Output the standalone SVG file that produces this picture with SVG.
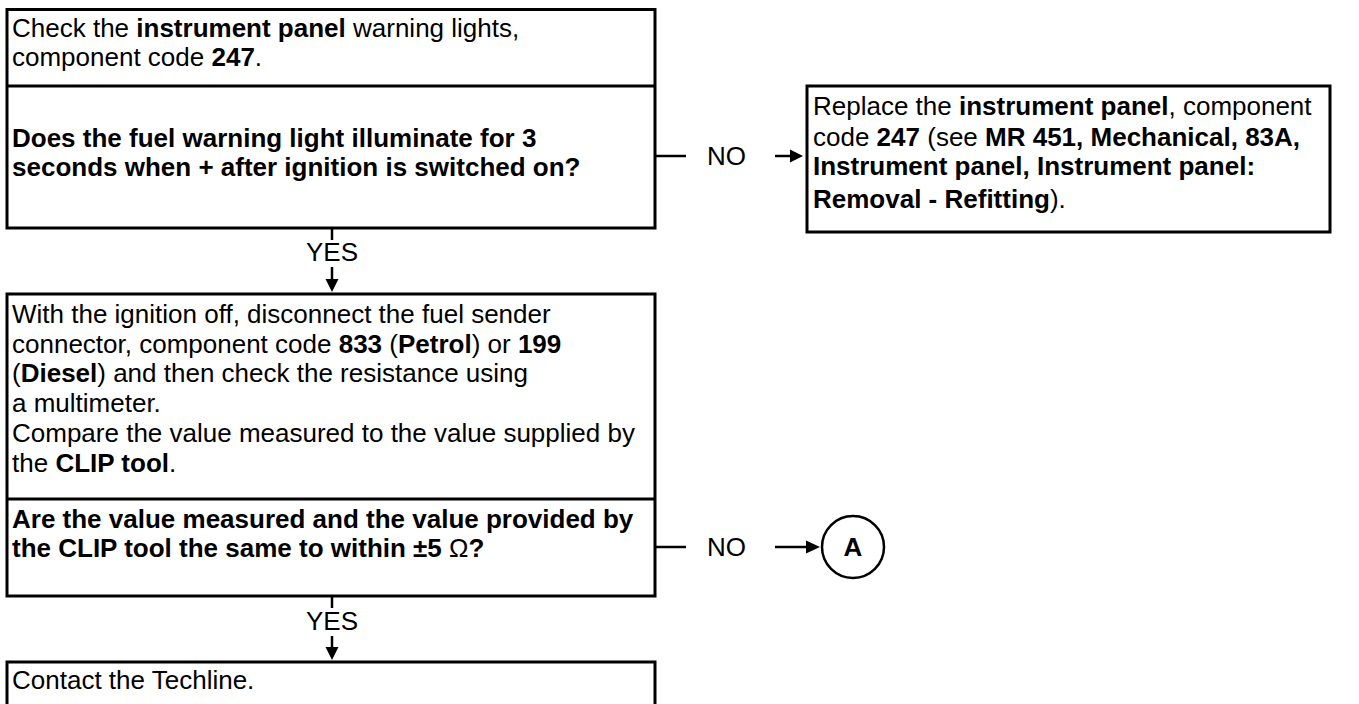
<svg xmlns="http://www.w3.org/2000/svg" width="1359" height="704" viewBox="0 0 1359 704">
<style>
.box{fill:#fff;stroke:#000;stroke-width:3}
.div{stroke:#000;stroke-width:3}
.t{font-family:"Liberation Sans",Arial,sans-serif;font-size:26px;fill:#000}
.b{font-weight:bold}
.lbl{font-family:"Liberation Sans",Arial,sans-serif;font-size:26px;fill:#000}
.c{stroke:#000;stroke-width:2.5;fill:none}
.ah{fill:#000}
</style>
<rect width="1359" height="704" fill="#fff"/>
<g id="node-check">
<rect class="box" x="7" y="9.5" width="648" height="218.5"/>
<line class="div" x1="7" y1="86" x2="655" y2="86"/>
<text class="t"><tspan x="12" y="37">Check the <tspan class="b">instrument panel</tspan> warning lights,</tspan><tspan x="12" y="66">component code <tspan class="b">247</tspan>.</tspan></text>
<text class="t b"><tspan x="12" y="147">Does the fuel warning light illuminate for 3</tspan><tspan x="12" y="176">seconds when + after ignition is switched on?</tspan></text>
</g>
<g id="node-replace">
<rect class="box" x="807" y="86" width="523" height="146"/>
<text class="t"><tspan x="813" y="115">Replace the <tspan class="b">instrument panel</tspan>, component</tspan><tspan x="813" y="146">code <tspan class="b">247</tspan> (see <tspan class="b">MR 451, Mechanical, 83A,</tspan></tspan><tspan x="813" y="175" class="b">Instrument panel, Instrument panel:</tspan><tspan x="813" y="208"><tspan class="b">Removal - Refitting</tspan>).</tspan></text>
</g>
<g id="node-measure">
<rect class="box" x="7" y="294" width="648" height="302"/>
<line class="div" x1="7" y1="499" x2="655" y2="499"/>
<text class="t"><tspan x="12" y="323">With the ignition off, disconnect the fuel sender</tspan><tspan x="12" y="353">connector, component code <tspan class="b">833</tspan> (<tspan class="b">Petrol</tspan>) or <tspan class="b">199</tspan></tspan><tspan x="12" y="382">(<tspan class="b">Diesel</tspan>) and then check the resistance using</tspan><tspan x="12" y="412">a multimeter.</tspan><tspan x="12" y="442">Compare the value measured to the value supplied by</tspan><tspan x="12" y="472">the <tspan class="b">CLIP tool</tspan>.</tspan></text>
<text class="t b"><tspan x="12" y="528">Are the value measured and the value provided by</tspan><tspan x="12" y="557">the CLIP tool the same to within ±5 <tspan font-weight="normal">Ω</tspan>?</tspan></text>
</g>
<g id="node-techline">
<rect class="box" x="7" y="662" width="648" height="60"/>
<text class="t" x="12" y="689">Contact the Techline.</text>
</g>
<g id="node-A">
<circle cx="853" cy="547" r="31" fill="#fff" stroke="#000" stroke-width="2.5"/>
<text class="t b" x="853" y="556" text-anchor="middle">A</text>
</g>
<g id="connectors">
<line class="c" x1="655" y1="156" x2="686" y2="156"/>
<text class="lbl" x="707" y="165">NO</text>
<line class="c" x1="775" y1="156" x2="792" y2="156"/>
<polygon class="ah" points="790,149.5 803,156 790,162.5"/>
<line class="c" x1="332" y1="228" x2="332" y2="240"/>
<text class="lbl" x="332" y="261" text-anchor="middle">YES</text>
<line class="c" x1="332" y1="267" x2="332" y2="281"/>
<polygon class="ah" points="325.5,279 338.5,279 332,292"/>
<line class="c" x1="655" y1="547" x2="686" y2="547"/>
<text class="lbl" x="707" y="556">NO</text>
<line class="c" x1="775" y1="547" x2="808" y2="547"/>
<polygon class="ah" points="806,540.5 820,547 806,553.5"/>
<line class="c" x1="332" y1="596" x2="332" y2="608"/>
<text class="lbl" x="332" y="630" text-anchor="middle">YES</text>
<line class="c" x1="332" y1="636" x2="332" y2="649"/>
<polygon class="ah" points="325.5,647 338.5,647 332,660"/>
</g>
</svg>
